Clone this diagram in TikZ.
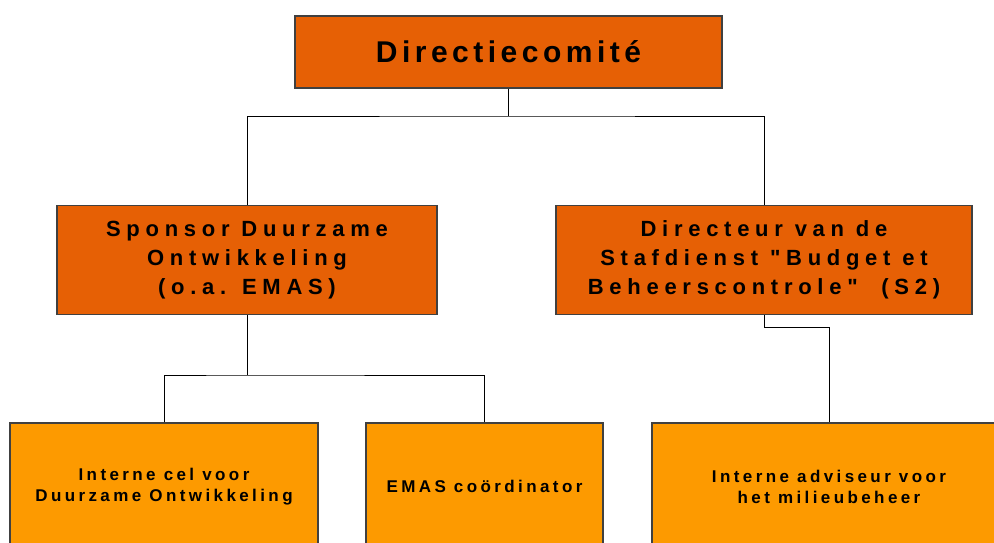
\documentclass[tikz,border=0pt]{standalone}
\usepackage{fontspec}
\usepackage{tikz}
\setmainfont{Liberation Sans}
\newfontfamily\topfont{Liberation Sans}[LetterSpace=15]
\newfontfamily\midfont{Liberation Sans}[LetterSpace=26]
\newfontfamily\lowfont{Liberation Sans}[LetterSpace=20]
\definecolor{darkorange}{RGB}{230,96,5}
\definecolor{lightorange}{RGB}{253,154,0}
\definecolor{boxline}{RGB}{64,64,64}

\begin{document}
\begin{tikzpicture}[x=1pt, y=-1pt,
  box/.style={draw=boxline, line width=1.2pt, inner sep=0pt, align=center},
  headbox/.style={box, fill=darkorange, font=\topfont\bfseries\fontsize{30}{36}\selectfont},
  midbox/.style={box, fill=darkorange, minimum height=109pt, font=\midfont\bfseries\fontsize{22}{29}\selectfont},
  lowbox/.style={box, fill=lightorange, minimum height=127pt, font=\lowfont\bfseries\fontsize{17}{21}\selectfont},
  link/.style={draw=black, line width=1pt}]
\useasboundingbox (0,0) rectangle (994,542);
\clip (0,0) rectangle (994,542);
% top level
\node[headbox, minimum width=427pt, minimum height=72pt] (dc) at (508.5,52) {Directiecomit\'e};
% second level
\node[midbox, minimum width=380pt] (sponsor) at (247,260) {Sponsor Duurzame\\Ontwikkeling\\(o.a. EMAS)};
\node[midbox, minimum width=416pt] (directeur) at (764,260) {Directeur van de\\Stafdienst "Budget et\\Beheerscontrole"\ \ (S2)};
% third level
\node[lowbox, minimum width=308pt] (cel) at (164,486.5) {Interne cel voor\\Duurzame Ontwikkeling};
\node[lowbox, minimum width=237pt] (emas) at (484.5,486.5) {EMAS co\"ordinator};
\node[lowbox, minimum width=354pt] (adviseur) at (829,486.5) {Interne adviseur voor\\het milieubeheer};
% junctions
\coordinate (j1) at (508.5,116);
\coordinate (j2) at (247,375);
\coordinate (j3) at (829,327);
% connectors
\draw[link] (dc.south) -- (j1);
\draw[link] (sponsor.north) |- (j1) -| (directeur.north);
\draw[link] (sponsor.south) -- (j2);
\draw[link] (cel.north) |- (j2) -| (emas.north);
\draw[link] (directeur.south) |- (j3) -- (adviseur.north);
\end{tikzpicture}
\end{document}
